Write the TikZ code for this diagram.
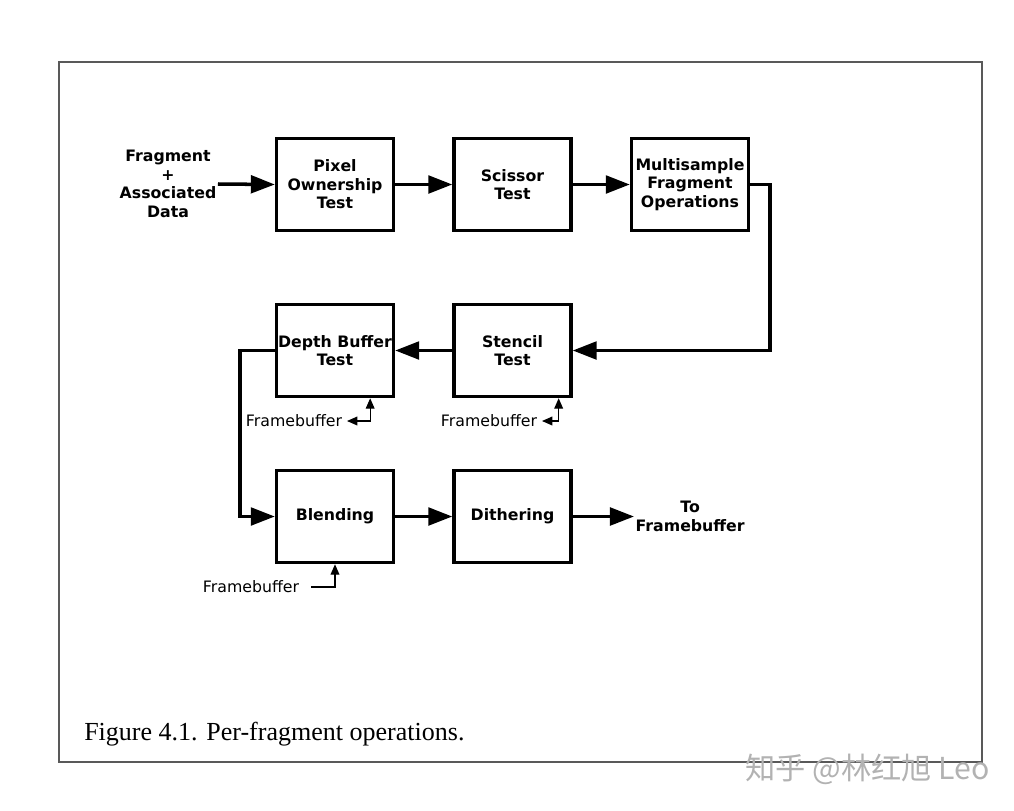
\documentclass[tikz,border=0pt]{standalone}
\usepackage{fontspec}
\usetikzlibrary{arrows.meta}
\newfontfamily\diagfont{DejaVu Sans}
\newfontfamily\capfont{Liberation Serif}
\newfontfamily\cjk{Noto Sans CJK SC}

\tikzset{
  stage/.style={draw, line width=2.5pt, minimum width=2.92cm, minimum height=2.3cm,
    align=center, inner sep=0pt, font=\diagfont\bfseries\fontsize{11.2}{13.2}\selectfont},
  label/.style={align=center, inner sep=1pt, font=\diagfont\bfseries\fontsize{11.2}{13.2}\selectfont},
  fblabel/.style={font=\diagfont\fontsize{11.2}{13}\selectfont},
  flow/.style={line width=2.5pt, -{Triangle[length=0.6cm,width=0.44cm]}},
  fbflow/.style={line width=0.8pt, -{Triangle[length=0.26cm,width=0.22cm]}},
  fbboth/.style={line width=0.8pt, {Triangle[length=0.26cm,width=0.22cm]}-{Triangle[length=0.26cm,width=0.22cm]}}
}

\begin{document}
\begin{tikzpicture}[x=0.025cm,y=-0.025cm]
\useasboundingbox (0,0) rectangle (1014,810);

% frame
\draw[black!65, line width=1pt] (59,62) rectangle (982,762);

% stages
\node[label] (frag) at (168,184) {Fragment\\+\\Associated\\Data};
\node[stage] (pixel) at (335,184.5) {Pixel\\Ownership\\Test};
\node[stage] (scissor) at (512.5,184.5) {Scissor\\Test};
\node[stage] (multi) at (690,184.5) {Multisample\\Fragment\\Operations};
\node[stage] (stencil) at (512.5,350.5) {Stencil\\Test};
\node[stage] (depth) at (335,350.5) {Depth Buffer\\Test};
\node[stage] (blend) at (335,516.5) {Blending};
\node[stage] (dither) at (512.5,516.5) {Dithering};
\node[label, anchor=west] (out) at (634,516.5) {To\\Framebuffer};

% main flow
\draw[flow] (frag.east) -- (pixel.west);
\draw[flow] (pixel.east) -- (scissor.west);
\draw[flow] (scissor.east) -- (multi.west);
\draw[flow] (multi.east) -- ++(20,0) |- (stencil.east);
\draw[flow] (stencil.west) -- (depth.east);
\draw[flow] (depth.west) -- ++(-35,0) |- (blend.west);
\draw[flow] (blend.east) -- (dither.west);
\draw[flow] (dither.east) -- (out.west);

% framebuffer access
\node[fblabel] (fbdepth) at (294,421) {Framebuffer};
\node[fblabel] (fbstencil) at (489,421) {Framebuffer};
\node[fblabel] (fbblend) at (251,587) {Framebuffer};
\draw[fbboth] (fbdepth.east) -| ([xshift=-0.625cm]depth.south east);
\draw[fbboth] (fbstencil.east) -| ([xshift=-0.35cm]stencil.south east);
\draw[fbflow, shorten <=5pt] (fbblend.east) -| (blend.south);

% caption
\node[anchor=west, inner sep=0pt, font=\capfont\fontsize{18.5}{22}\selectfont] (cap) at (84,734) {Figure 4.1. Per-fragment operations.};
\node[anchor=west, inner sep=0pt, text=black!30, font=\cjk\fontsize{21.5}{25}\selectfont] (mark) at (745,769) {知乎 @林红旭 Leo};
\end{tikzpicture}
\end{document}
